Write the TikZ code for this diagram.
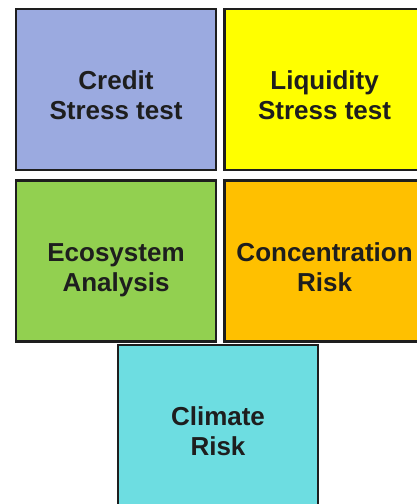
\documentclass[tikz,border=0pt]{standalone}
\usepackage{fontspec}
\setmainfont{Liberation Sans}
\usetikzlibrary{positioning}

\definecolor{creditblue}{HTML}{9BAAE0}
\definecolor{liquidyellow}{HTML}{FFFF00}
\definecolor{ecogreen}{HTML}{92D050}
\definecolor{concorange}{HTML}{FFC000}
\definecolor{climatecyan}{HTML}{6DDDE1}
\definecolor{boxedge}{HTML}{1E1E1E}

\tikzset{
  riskbox/.style={draw=boxedge, line width=2.6pt, minimum width=200pt, minimum height=161pt,
    inner sep=0pt, align=center, text=boxedge, text height=60pt, text depth=0pt,
    font=\fontsize{26}{30}\selectfont\bfseries}
}

\begin{document}
\begin{tikzpicture}[x=1pt,y=1pt]
                \useasboundingbox (0,0) rectangle (416,504);

                % Top row
                \node[riskbox, fill=creditblue] (credit) at (116,414.5) {Credit\\Stress test};
                \node[riskbox, fill=liquidyellow, right=6pt of credit] (liquidity) {Liquidity\\Stress test};

                % Middle row
                \node[riskbox, fill=ecogreen, below=8pt of credit] (ecosystem) {Ecosystem\\Analysis};
                \node[riskbox, fill=concorange, right=6pt of ecosystem] (concentration) {Concentration\\Risk};

                % Bottom box
                \node[riskbox, fill=climatecyan] (climate) at (218,78.5) {Climate\\Risk};
            \end{tikzpicture}
\end{document}
